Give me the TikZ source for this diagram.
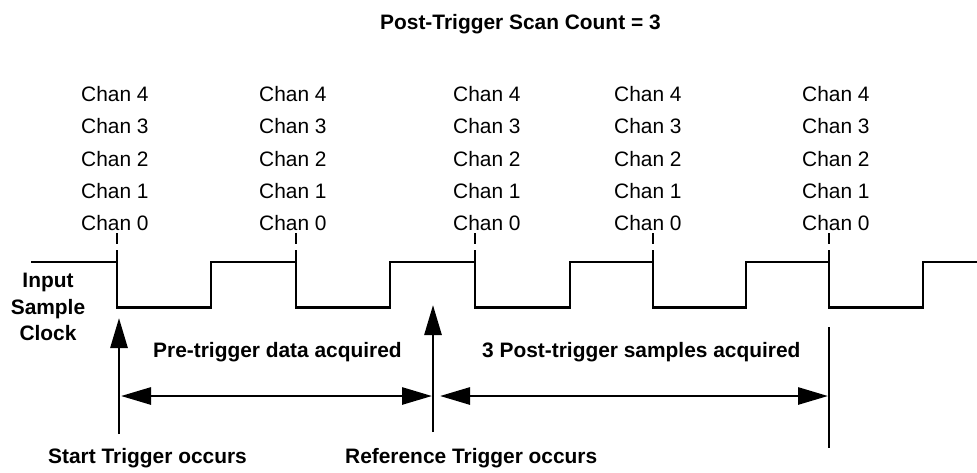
\documentclass[tikz,border=0pt]{standalone}
\usepackage{fontspec}
\setmainfont{Liberation Sans}
\usetikzlibrary{arrows.meta}
\begin{document}
\begin{tikzpicture}[x=1pt,y=-1pt,
  txt/.style={inner sep=0pt, anchor=base west, font=\fontsize{20.9}{25}\selectfont},
  btxt/.style={inner sep=0pt, anchor=base west, font=\fontsize{20.9}{25}\selectfont\bfseries},
  ctxt/.style={inner sep=0pt, anchor=base, font=\fontsize{20.9}{25}\selectfont\bfseries},
  wave/.style={line width=2.8pt, line join=miter},
  ticks/.style={line width=2.8pt, dash pattern=on 11pt off 6pt},
  arr/.style={line width=2.8pt, -{Triangle[length=30pt,width=17pt]}},
  darr/.style={line width=2.8pt, {Triangle[length=30pt,width=17pt]}-{Triangle[length=30pt,width=17pt]}},
  plainline/.style={line width=2.8pt}]
\useasboundingbox (0,0) rectangle (977,472);
\fill[white] (0,0) rectangle (977,472);

% title
\node[btxt] (title) at (380,29) {Post-Trigger Scan Count = 3};

% channel labels
\foreach \x [count=\c] in {81,259,453,614,802} {
  \foreach \k [count=\r] in {4,3,2,1,0} {
    \node[txt] (ch\c-\k) at (\x, {69.25+32.25*\r}) {Chan \k};
  }
}

% input sample clock label
\node[ctxt] (inp1) at (48,287) {Input};
\node[ctxt] (inp2) at (48,314) {Sample};
\node[ctxt] (inp3) at (48,340) {Clock};

% waveform
\draw[wave] (31,262) -- (117,262) -- (117,307.5) -- (211,307.5) -- (211,262)
  -- (296,262) -- (296,307.5) -- (390,307.5) -- (390,262)
  -- (475,262) -- (475,307.5) -- (570,307.5) -- (570,262)
  -- (653,262) -- (653,307.5) -- (746,307.5) -- (746,262)
  -- (829,262) -- (829,307.5) -- (923,307.5) -- (923,262) -- (977,262);

% dashed sample markers
\foreach \x [count=\c] in {117,296,475,653,829} {
  \coordinate (tt\c) at (\x,233);
  \coordinate (tb\c) at (\x,262);
  \draw[ticks] (tt\c) -- (tb\c);
}

% trigger arrows
\coordinate (sb) at (119,434); \coordinate (st) at (119,318);
\draw[arr] (sb) -- (st);
\coordinate (rb) at (433,432); \coordinate (rt) at (433,305);
\draw[arr] (rb) -- (rt);

% span arrows
\coordinate (pl) at (121,396); \coordinate (pr) at (432,396);
\draw[darr] (pl) -- (pr);
\coordinate (ql) at (440,396); \coordinate (qr) at (828,396);
\draw[darr] (ql) -- (qr);
\coordinate (vt) at (829,327); \coordinate (vb) at (829,448);
\draw[plainline] (vt) -- (vb);

% labels
\node[btxt] (pre) at (153,357.5) {Pre-trigger data acquired};
\node[btxt] (post) at (482,357.5) {3 Post-trigger samples acquired};
\node[btxt] (start) at (48,463) {Start Trigger occurs};
\node[btxt] (ref) at (345,463) {Reference Trigger occurs};
\end{tikzpicture}
\end{document}
